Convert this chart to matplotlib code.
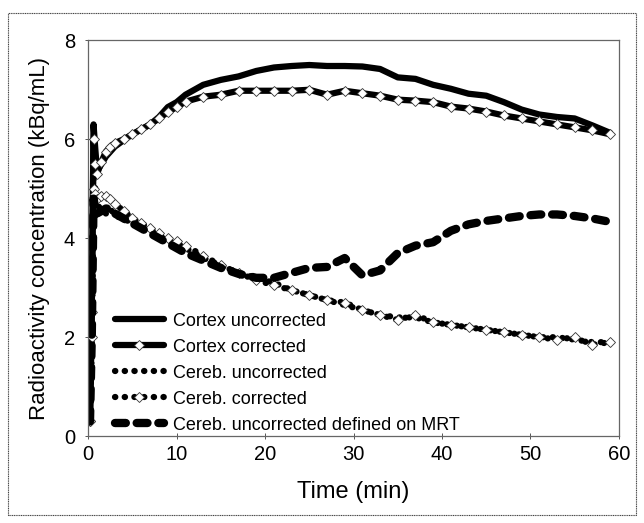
import matplotlib
matplotlib.use("Agg")
import matplotlib.pyplot as plt
from matplotlib.patches import Rectangle

plt.rcParams["font.family"] = ["Liberation Sans", "DejaVu Sans"]

# Frame mid-times (min)
time = [0.2, 0.4, 0.6, 0.8, 1.0, 1.5, 2, 2.5, 3, 4, 5, 6, 7, 8, 9, 10, 11,
        13, 15, 17, 19, 21, 23, 25, 27, 29, 31, 33, 35, 37, 39, 41, 43, 45,
        47, 49, 51, 53, 55, 57, 59]

cortex_uncorr = [0.3, 2.5, 6.3, 5.8, 5.35, 5.5, 5.65, 5.75, 5.85, 5.98, 6.1,
                 6.2, 6.3, 6.45, 6.65, 6.75, 6.9, 7.1, 7.2, 7.27, 7.38, 7.45,
                 7.48, 7.5, 7.48, 7.48, 7.47, 7.42, 7.25, 7.22, 7.1, 7.02,
                 6.92, 6.88, 6.75, 6.6, 6.5, 6.45, 6.42, 6.28, 6.13]
cortex_corr = [0.3, 2.5, 6.0, 5.5, 5.3, 5.55, 5.75, 5.85, 5.92, 6.0, 6.1,
               6.2, 6.3, 6.42, 6.55, 6.65, 6.76, 6.86, 6.9, 6.98, 6.98, 6.98,
               6.98, 7.0, 6.9, 6.98, 6.93, 6.88, 6.8, 6.78, 6.75, 6.66, 6.62,
               6.56, 6.48, 6.42, 6.36, 6.3, 6.24, 6.18, 6.1]
cereb_uncorr = [0.3, 2.0, 5.2, 5.0, 4.7, 4.55, 4.5, 4.6, 4.45, 4.4, 4.3, 4.2,
                4.15, 4.05, 3.95, 3.9, 3.8, 3.6, 3.45, 3.3, 3.2, 3.1, 2.95,
                2.85, 2.75, 2.65, 2.55, 2.45, 2.4, 2.4, 2.3, 2.25, 2.2, 2.15,
                2.1, 2.05, 2.0, 2.0, 1.95, 1.9, 1.9]
cereb_corr = [0.3, 2.0, 5.0, 4.9, 4.8, 4.85, 4.85, 4.8, 4.7, 4.55, 4.4, 4.3,
              4.2, 4.1, 4.0, 3.95, 3.85, 3.65, 3.45, 3.3, 3.15, 3.05, 2.95,
              2.85, 2.75, 2.7, 2.55, 2.45, 2.35, 2.45, 2.3, 2.25, 2.2, 2.15,
              2.1, 2.05, 2.0, 1.95, 2.0, 1.85, 1.9]
cereb_mrt = [0.3, 2.0, 4.8, 4.6, 4.5, 4.55, 4.6, 4.6, 4.5, 4.4, 4.3, 4.2,
             4.1, 4.0, 3.9, 3.8, 3.7, 3.55, 3.4, 3.28, 3.2, 3.2, 3.3, 3.4,
             3.42, 3.6, 3.25, 3.35, 3.7, 3.85, 3.92, 4.15, 4.28, 4.35, 4.4,
             4.45, 4.48, 4.48, 4.45, 4.4, 4.33]

fig = plt.figure(figsize=(6.44, 5.23), dpi=100)
ax = fig.add_axes([0.137, 0.166, 0.824, 0.757])

# outer frame around the whole figure
fig.patches.append(Rectangle((0.012, 0.015), 0.976, 0.96, transform=fig.transFigure,
                             fill=False, edgecolor="#444444", linewidth=0.8,
                             linestyle=(0, (1, 0.6))))

dia = dict(marker="D", markersize=5, markerfacecolor="white",
           markeredgecolor="#333333", markeredgewidth=0.6)

ax.plot(time, cortex_uncorr, color="black", linewidth=4.5,
        solid_capstyle="round", solid_joinstyle="round", label="Cortex uncorrected")
ax.plot(time, cortex_corr, color="black", linewidth=4.5,
        solid_capstyle="round", solid_joinstyle="round", label="Cortex corrected", **dia)
ax.plot(time, cereb_uncorr, color="black", linewidth=4.5,
        linestyle=(0, (0.05, 1.5)), dash_capstyle="round", label="Cereb. uncorrected")
ax.plot(time, cereb_corr, color="black", linewidth=4.5,
        linestyle=(0, (0.05, 1.5)), dash_capstyle="round", label="Cereb. corrected", **dia)
ax.plot(time, cereb_mrt, color="black", linewidth=6,
        linestyle=(0, (1.3, 1.3)), dash_capstyle="round",
        label="Cereb. uncorrected defined on MRT")

ax.set_xlim(0, 60)
ax.set_ylim(0, 8)
ax.set_xticks([0, 10, 20, 30, 40, 50, 60])
ax.set_yticks([0, 2, 4, 6, 8])
ax.tick_params(direction="inout", length=5, width=0.7, color="#555555",
               labelsize=14.5, pad=4)
ax.tick_params(axis="y", pad=7)
for s in ax.spines.values():
    s.set_color("#666666")
    s.set_linewidth(0.9)

ax.set_xlabel("Time (min)", fontsize=17, labelpad=12)
ax.set_ylabel("Radioactivity concentration (kBq/mL)", fontsize=16, labelpad=10)

leg = ax.legend(loc="lower left", bbox_to_anchor=(0.02, -0.035), frameon=False,
                fontsize=13, handlelength=2.7, handletextpad=0.5,
                labelspacing=0.5, markerscale=1.0)

fig.savefig("out.png", dpi=100)
